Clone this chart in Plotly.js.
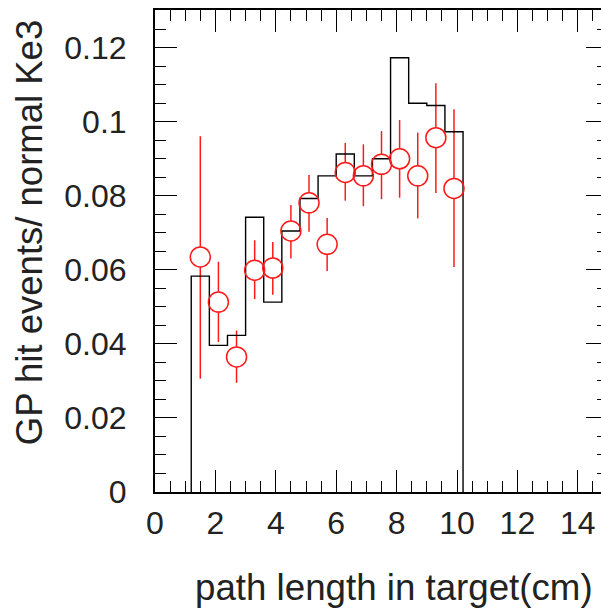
<!DOCTYPE html>
<html>
<head>
<meta charset="utf-8">
<script src="https://cdn.plot.ly/plotly-3.0.1.min.js"></script>
<style>
html, body { margin:0; padding:0; overflow:hidden; background:#fff; }
#chart { width:612px; height:610px; }
</style>
</head>
<body>
<div id="chart"></div>
<script>
// Histogram (black step line): bin edges and contents
const binEdges = [1.2, 1.8, 2.4, 3.0, 3.6, 4.2, 4.8, 5.4, 6.0, 6.6, 7.2, 7.8, 8.4, 9.0, 9.6, 10.2];
const histValues = [0.0583, 0.0396, 0.0423, 0.0742, 0.0513, 0.0705, 0.0793, 0.0854, 0.0913, 0.0854, 0.0900, 0.1173, 0.1050, 0.1044, 0.0973];

// Data points (red open circles) with asymmetric errors
const pointX = [1.5, 2.1, 2.7, 3.3, 3.9, 4.5, 5.1, 5.7, 6.3, 6.9, 7.5, 8.1, 8.7, 9.3, 9.9];
const pointY = [0.0635, 0.0513, 0.0365, 0.0599, 0.0605, 0.0705, 0.0781, 0.0669, 0.0863, 0.0854, 0.0885, 0.0900, 0.0854, 0.0957, 0.0820];
const errUp = [0.0326, 0.0109, 0.0071, 0.0081, 0.0070, 0.0070, 0.0075, 0.0071, 0.0080, 0.0085, 0.0090, 0.0105, 0.0117, 0.0147, 0.0214];
const errDown = [0.0329, 0.0108, 0.0070, 0.0078, 0.0072, 0.0074, 0.0078, 0.0072, 0.0076, 0.0082, 0.0094, 0.0105, 0.0115, 0.0149, 0.0212];

const xTitle = "path length in target(cm)";
const yTitle = "GP hit events/ normal Ke3";

// Build step outline from bins
const stepX = [binEdges[0]];
const stepY = [0];
for (let i = 0; i < histValues.length; i++) { stepX.push(binEdges[i]); stepY.push(histValues[i]); }
stepX.push(binEdges[binEdges.length - 1]); stepY.push(0);

const RED = "#ff1a1a";
const FONT = "Liberation Sans, Arial, Helvetica, sans-serif";

const traces = [
  { // error bars, masked inside circles by white discs
    x: pointX, y: pointY, type: "scatter", mode: "markers",
    marker: { symbol: "circle", size: 20, color: "#ffffff", line: { width: 0 } },
    error_y: { type: "data", symmetric: false, array: errUp, arrayminus: errDown,
               color: RED, thickness: 1.5, width: 0 },
    hoverinfo: "skip", showlegend: false
  },
  { // histogram outline
    x: stepX, y: stepY, type: "scatter", mode: "lines",
    line: { shape: "hv", color: "#000000", width: 1.4 },
    showlegend: false
  },
  { // hollow circles
    x: pointX, y: pointY, type: "scatter", mode: "markers",
    marker: { symbol: "circle-open", size: 20, color: RED, line: { width: 1.5, color: RED } },
    showlegend: false
  }
];

const axisCommon = {
  showgrid: false, zeroline: false,
  showline: true, linecolor: "#000", linewidth: 2, mirror: "allticks",
  ticks: "inside", ticklen: 22, tickwidth: 1, tickcolor: "#000",
  tickfont: { family: FONT, size: 32, color: "#222" }
};

const layout = {
  width: 612, height: 610,
  margin: { l: 155, r: 4, t: 10, b: 118, pad: 0 },
  paper_bgcolor: "#fff", plot_bgcolor: "#fff",
  showlegend: false,
  xaxis: Object.assign({}, axisCommon, {
    range: [0, 15], tickmode: "linear", tick0: 0, dtick: 2,
    minor: { dtick: 0.5, ticklen: 11, tickwidth: 1, tickcolor: "#000", ticks: "inside" },
    ticklabelstandoff: 2
  }),
  yaxis: Object.assign({}, axisCommon, {
    range: [0, 0.1302], tickmode: "linear", tick0: 0, dtick: 0.02,
    minor: { dtick: 0.005, ticklen: 11, tickwidth: 1, tickcolor: "#000", ticks: "inside" },
    ticklabelstandoff: 20
  }),
  annotations: [
    { text: xTitle, xref: "paper", yref: "paper", x: 0.971, y: -0.198, xanchor: "right", yanchor: "middle",
      showarrow: false, font: { family: FONT, size: 36.7, color: "#222" } },
    { text: yTitle, xref: "paper", yref: "paper", x: 0, xshift: -126, y: 0.537, xanchor: "center", yanchor: "middle",
      textangle: -90, showarrow: false, font: { family: FONT, size: 36.5, color: "#222" } }
  ]
};

Plotly.newPlot("chart", traces, layout, { displayModeBar: false, staticPlot: true });
</script>
</body>
</html>
